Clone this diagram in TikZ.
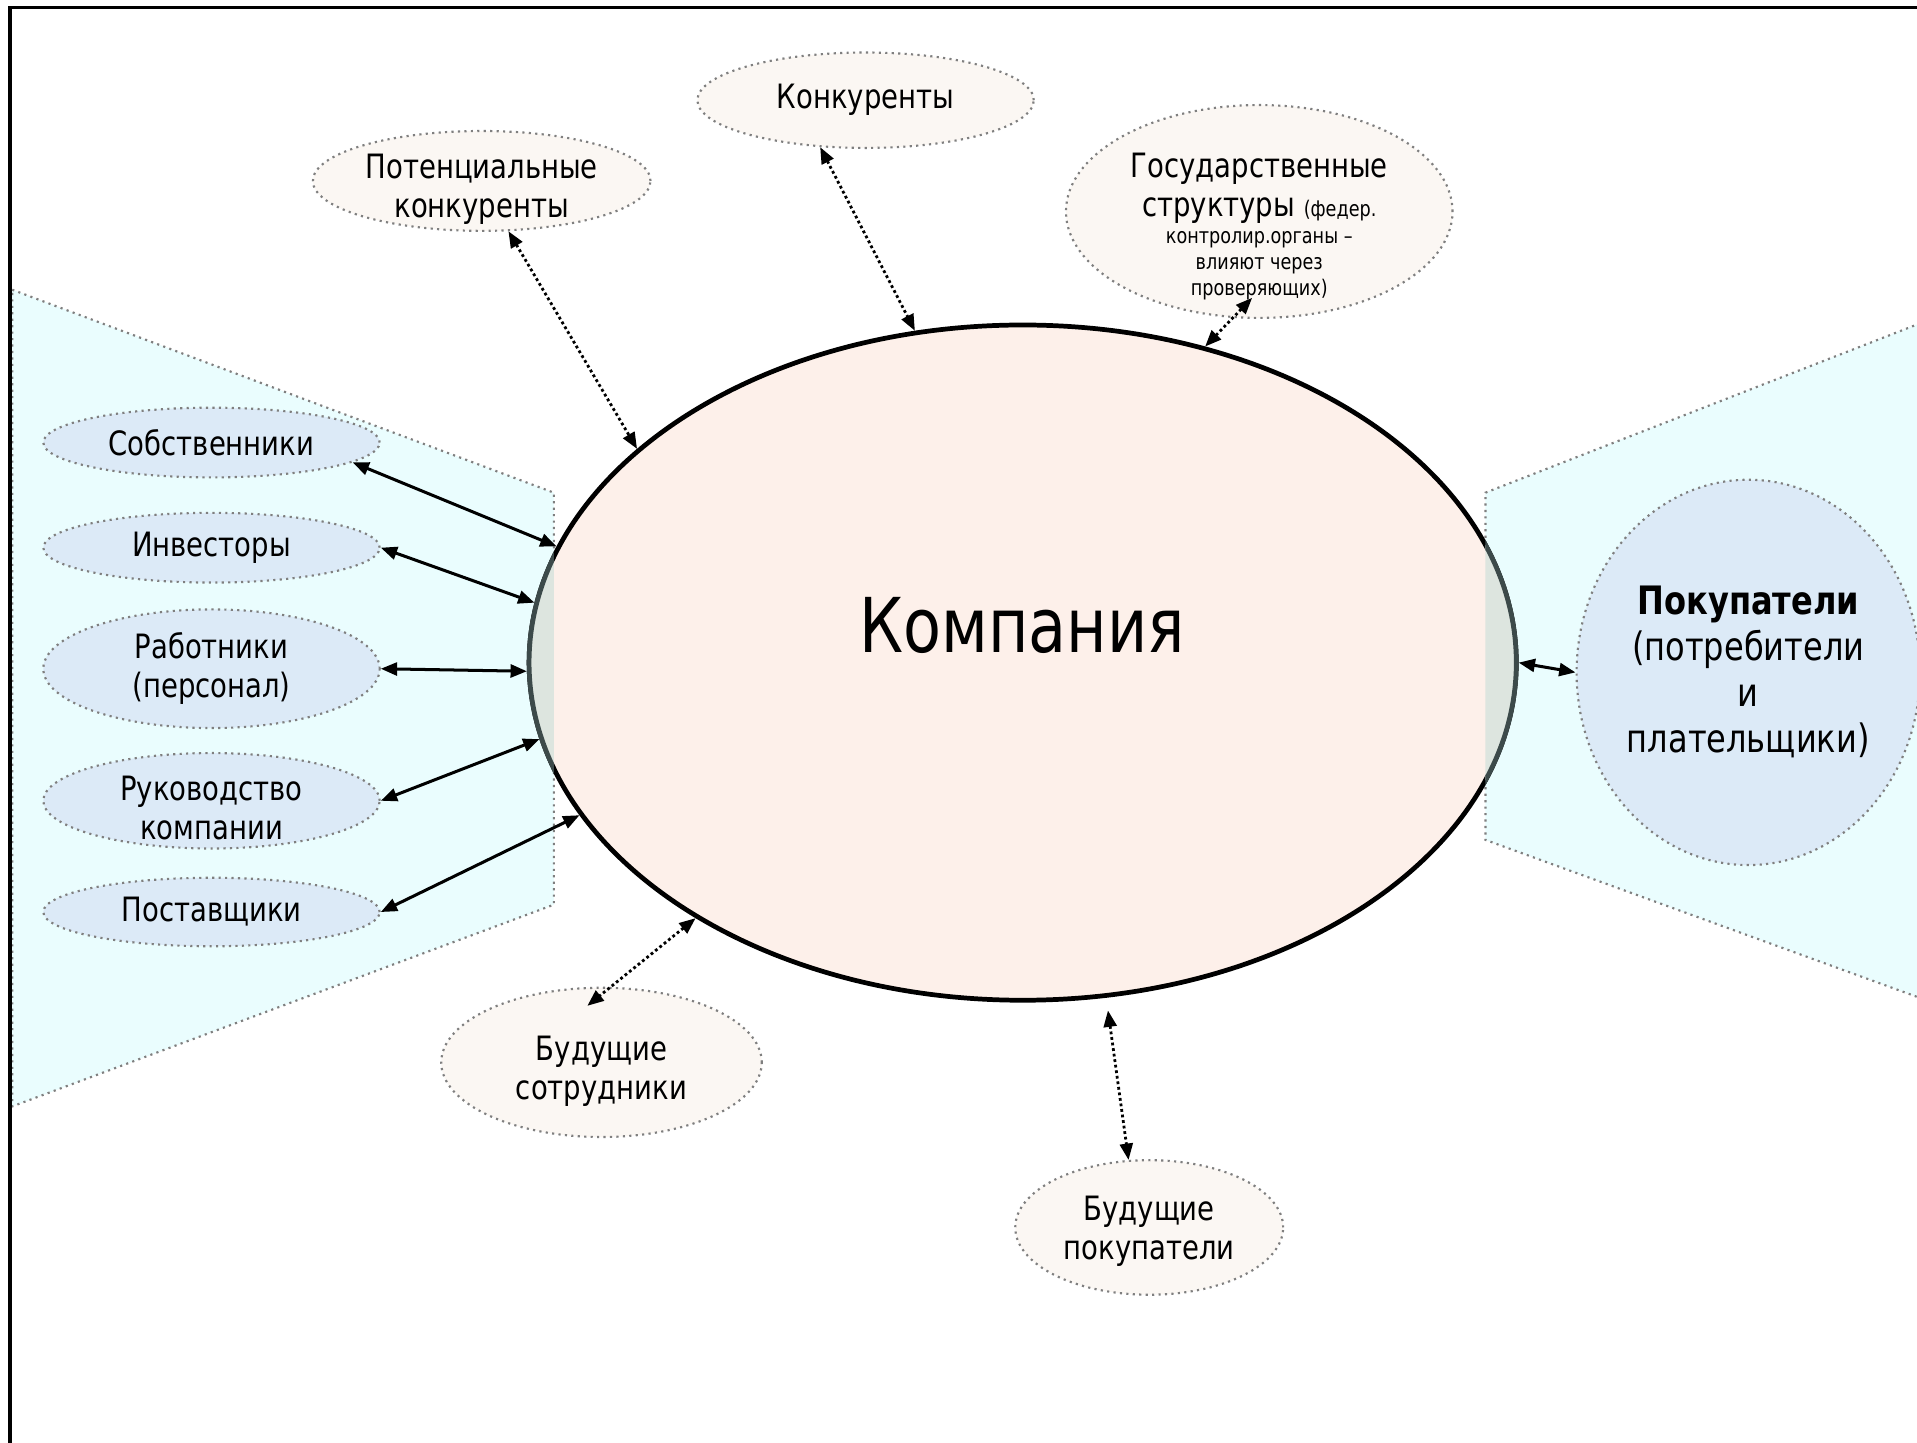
\documentclass[tikz,border=0pt]{standalone}
\usepackage{fontspec}
\setmainfont{DejaVu Sans}[FakeStretch=0.82]
\usepackage{tikz}
\usetikzlibrary{shapes.geometric,arrows.meta}
\definecolor{ink}{HTML}{000000}
\definecolor{rim}{HTML}{7F7F7F}
\definecolor{firmfill}{HTML}{FDF0EA}
\definecolor{outfill}{HTML}{FBF7F3}
\definecolor{sidefill}{HTML}{DCEAF7}
\definecolor{zonefill}{HTML}{EAFDFE}
\definecolor{mixfill}{HTML}{DDE5DF}
\definecolor{mixrim}{HTML}{3C4A4A}
\newcommand{\txtn}{\fontsize{7.8pt}{9.1pt}\selectfont}
\newcommand{\txts}{\fontsize{5pt}{6pt}\selectfont}
\newcommand{\txtb}{\fontsize{9.1pt}{10.7pt}\selectfont}
\newcommand{\txtx}{\fontsize{17.6pt}{21pt}\selectfont}
\newcommand{\topgap}[1]{\rule{0pt}{#1}}
\tikzset{
  firm/.style={ellipse, draw=ink, line width=1.1pt, fill=firmfill, minimum width=8.07cm, minimum height=5.52cm, inner sep=0pt},
  party/.style={ellipse, draw=rim, densely dotted, line width=0.5pt, fill=outfill, inner sep=0pt, align=center, font=\txtn},
  side/.style={party, fill=sidefill},
  zone/.style={draw=rim, densely dotted, line width=0.5pt, fill=zonefill},
  link/.style={<->, draw=ink, line width=0.7pt},
  maybe/.style={<->, draw=ink, line width=0.65pt, dash pattern=on 0.65pt off 0.65pt},
  lab/.style={font=\txtx, inner sep=0pt},
  >={Triangle[length=3.8pt,width=3pt]},
}
\begin{document}
\begin{tikzpicture}[x=0.01cm, y=-0.01cm]
  \useasboundingbox (0,0) rectangle (1568,1180);
  \clip (0,0) rectangle (1568,1180);
  \fill[white] (0,0) rectangle (1568,1180);
  \draw[zone] (10,237) -- (453,403) -- (453,740) -- (10,905) -- cycle;
  \draw[zone] (1600,253) -- (1215,403) -- (1215,687) -- (1600,827) -- cycle;
  \node[firm] (comp) at (836.5,542) {};
  \begin{scope}
    \clip (10,237) -- (453,403) -- (453,740) -- (10,905) -- cycle;
    \draw[fill=mixfill, draw=mixrim, line width=1.1pt] (comp.center) ellipse [x radius=4.035cm, y radius=2.76cm];
  \end{scope}
  \begin{scope}
    \clip (1600,253) -- (1215,403) -- (1215,687) -- (1600,827) -- cycle;
    \draw[fill=mixfill, draw=mixrim, line width=1.1pt] (comp.center) ellipse [x radius=4.035cm, y radius=2.76cm];
  \end{scope}
  \node[lab] (comptxt) at (836,512) {Компания};
  \draw[line width=0.8pt] (8,1180) -- (8,6) -- (1568,6);

  \node[party, minimum width=2.75cm, minimum height=0.78cm] (konk) at (708,82) {Конкуренты};
  \node[party, minimum width=2.76cm, minimum height=0.8cm, inner ysep=-2pt] (potk) at (394,148)
    {\topgap{9.7pt}Потенциальные\\конкуренты};
  \node[party, minimum width=3.16cm, minimum height=1.74cm, inner ysep=-3.4pt] (gos) at (1030,173)
    {\topgap{12.5pt}Государственные\\структуры {\txts (федер.}\\[-2.7pt]{\txts контролир.органы –}\\[-3.1pt]{\txts влияют через}\\[-3.1pt]{\txts проверяющих)}};
  \node[party, minimum width=2.62cm, minimum height=1.22cm, inner ysep=-2pt] (bsotr) at (492,869)
    {\topgap{9.7pt}Будущие\\сотрудники};
  \node[party, minimum width=2.19cm, minimum height=1.1cm, inner ysep=-0.9pt] (bpok) at (940,1004)
    {\topgap{7.5pt}Будущие\\покупатели};

  \node[side, minimum width=2.75cm, minimum height=0.57cm] (sob) at (173,362) {Собственники};
  \node[side, minimum width=2.75cm, minimum height=0.57cm] (inv) at (173,448) {Инвесторы};
  \node[side, minimum width=2.75cm, minimum height=0.97cm] (rab) at (173,547) {Работники\\(персонал)};
  \node[side, minimum width=2.75cm, minimum height=0.78cm, inner ysep=-1.7pt] (ruk) at (173,655)
    {\topgap{9.1pt}Руководство\\компании};
  \node[side, minimum width=2.75cm, minimum height=0.56cm] (post) at (173,746) {Поставщики};
  \node[side, minimum width=2.8cm, minimum height=3.15cm, font=\txtb] (pok) at (1430,550)
    {\textbf{Покупатели}\\(потребители\\и\\плательщики)};

  \draw[link] (sob.-8) -- (comp.166);
  \draw[link] (inv.east) -- (comp.173);
  \draw[link] (rab.east) -- (comp.181);
  \draw[link] (ruk.east) -- (comp.189.5);
  \draw[link] (post.east) -- (comp.199.5);
  \draw[link] (comp.east) -- (pok.west);

  \draw[maybe] (potk.-62) -- (comp.151);
  \draw[maybe] (konk.226) -- (comp.108.7);
  \draw[maybe, shorten <=-6.5pt] (gos.256) -- (comp.60);
  \draw[maybe, shorten >=-7pt] (comp.218.6) -- (bsotr.83);
  \draw[maybe, shorten <=3pt] (comp.-76) -- (bpok.107);
\end{tikzpicture}
\end{document}
